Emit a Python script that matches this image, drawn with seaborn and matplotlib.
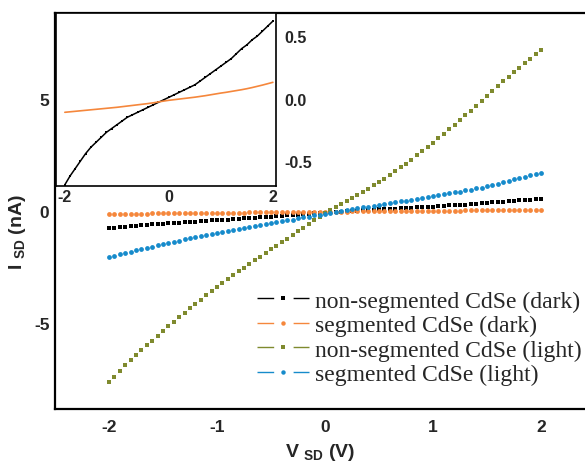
import numpy as np
import matplotlib
matplotlib.use("Agg")
import matplotlib.pyplot as plt
from matplotlib.lines import Line2D
import seaborn as sns

# ---- data ----
V_SD = [-2.00, -1.95, -1.90, -1.85, -1.80, -1.75, -1.70, -1.65, -1.60, -1.55,
        -1.50, -1.45, -1.40, -1.35, -1.30, -1.25, -1.20, -1.15, -1.10, -1.05,
        -1.00, -0.95, -0.90, -0.85, -0.80, -0.75, -0.70, -0.65, -0.60, -0.55,
        -0.50, -0.45, -0.40, -0.35, -0.30, -0.25, -0.20, -0.15, -0.10, -0.05,
        0.00, 0.05, 0.10, 0.15, 0.20, 0.25, 0.30, 0.35, 0.40, 0.45,
        0.50, 0.55, 0.60, 0.65, 0.70, 0.75, 0.80, 0.85, 0.90, 0.95,
        1.00, 1.05, 1.10, 1.15, 1.20, 1.25, 1.30, 1.35, 1.40, 1.45,
        1.50, 1.55, 1.60, 1.65, 1.70, 1.75, 1.80, 1.85, 1.90, 1.95, 2.00]

nonseg_dark = [-0.75, -0.74, -0.72, -0.70, -0.68, -0.66, -0.64, -0.62, -0.60, -0.58,
               -0.56, -0.55, -0.53, -0.52, -0.50, -0.48, -0.47, -0.45, -0.44, -0.42,
               -0.41, -0.39, -0.38, -0.36, -0.35, -0.33, -0.32, -0.30, -0.28, -0.27,
               -0.25, -0.23, -0.22, -0.20, -0.18, -0.16, -0.14, -0.13, -0.11, -0.10,
               -0.08, -0.06, -0.05, -0.03, -0.02, 0.00, 0.01, 0.03, 0.04, 0.06,
               0.07, 0.08, 0.10, 0.11, 0.12, 0.14, 0.15, 0.16, 0.18, 0.19,
               0.20, 0.22, 0.23, 0.25, 0.26, 0.28, 0.29, 0.31, 0.33, 0.34,
               0.36, 0.38, 0.42, 0.42, 0.43, 0.45, 0.47, 0.49, 0.51, 0.52, 0.54]

seg_dark = [-0.130, -0.127, -0.125, -0.122, -0.120, -0.117, -0.115, -0.112, -0.110, -0.107,
            -0.105, -0.102, -0.100, -0.097, -0.095, -0.092, -0.090, -0.087, -0.085, -0.082,
            -0.080, -0.078, -0.075, -0.073, -0.070, -0.068, -0.065, -0.063, -0.060, -0.058,
            -0.055, -0.053, -0.050, -0.048, -0.045, -0.043, -0.040, -0.038, -0.035, -0.033,
            -0.030, -0.029, -0.027, -0.025, -0.023, -0.021, -0.019, -0.017, -0.015, -0.013,
            -0.011, -0.009, -0.007, -0.005, -0.003, -0.001, 0.001, 0.003, 0.005, 0.007,
            0.010, 0.012, 0.014, 0.016, 0.018, 0.020, 0.023, 0.025, 0.027, 0.029,
            0.032, 0.034, 0.037, 0.039, 0.042, 0.045, 0.048, 0.051, 0.054, 0.057, 0.060]

nonseg_light = [-7.65, -7.40, -7.15, -6.90, -6.65, -6.44, -6.22, -6.01, -5.80, -5.59,
                -5.37, -5.16, -4.95, -4.75, -4.55, -4.35, -4.15, -3.96, -3.77, -3.59,
                -3.40, -3.22, -3.05, -2.87, -2.70, -2.54, -2.37, -2.21, -2.05, -1.89,
                -1.72, -1.56, -1.40, -1.24, -1.07, -0.91, -0.75, -0.59, -0.42, -0.26,
                -0.10, 0.04, 0.18, 0.31, 0.45, 0.59, 0.73, 0.86, 1.00, 1.15,
                1.30, 1.45, 1.60, 1.77, 1.95, 2.12, 2.30, 2.49, 2.68, 2.86,
                3.05, 3.25, 3.45, 3.65, 3.85, 4.06, 4.28, 4.49, 4.70, 4.93,
                5.15, 5.38, 5.60, 5.80, 6.00, 6.20, 6.40, 6.60, 6.80, 7.00, 7.20]

seg_light = [-2.05, -1.99, -1.93, -1.87, -1.82, -1.76, -1.70, -1.64, -1.59, -1.53,
             -1.48, -1.43, -1.37, -1.32, -1.27, -1.22, -1.17, -1.12, -1.07, -1.03,
             -0.98, -0.94, -0.89, -0.85, -0.81, -0.76, -0.72, -0.68, -0.64, -0.59,
             -0.55, -0.51, -0.46, -0.42, -0.38, -0.33, -0.29, -0.25, -0.20, -0.16,
             -0.12, -0.08, -0.04, 0.00, 0.04, 0.08, 0.12, 0.16, 0.19, 0.23,
             0.27, 0.31, 0.35, 0.39, 0.43, 0.46, 0.50, 0.54, 0.58, 0.62,
             0.66, 0.70, 0.74, 0.79, 0.83, 0.87, 0.92, 0.96, 1.01, 1.05,
             1.10, 1.16, 1.22, 1.28, 1.34, 1.41, 1.47, 1.53, 1.59, 1.66, 1.72]

# inset (dark curves, zoomed)
V_INSET = [-2.0, -1.9, -1.8, -1.7, -1.6, -1.5, -1.4, -1.3, -1.2, -1.1,
           -1.0, -0.9, -0.8, -0.7, -0.6, -0.5, -0.4, -0.3, -0.2, -0.1,
           0.0, 0.1, 0.2, 0.3, 0.4, 0.5, 0.6, 0.7, 0.8, 0.9,
           1.0, 1.1, 1.2, 1.3, 1.4, 1.5, 1.6, 1.7, 1.8, 1.9, 2.0]
inset_nonseg = [-0.69, -0.62, -0.56, -0.50, -0.44, -0.39, -0.35, -0.31, -0.27, -0.24,
                -0.21, -0.18, -0.15, -0.13, -0.11, -0.09, -0.07, -0.05, -0.03, -0.01,
                0.01, 0.03, 0.05, 0.07, 0.09, 0.11, 0.14, 0.17, 0.20, 0.23,
                0.26, 0.29, 0.32, 0.36, 0.40, 0.43, 0.47, 0.50, 0.54, 0.58, 0.62]
inset_seg = [-0.110, -0.106, -0.102, -0.098, -0.094, -0.090, -0.086, -0.082, -0.078, -0.074,
             -0.070, -0.065, -0.060, -0.055, -0.050, -0.045, -0.040, -0.034, -0.027, -0.020,
             -0.014, -0.009, -0.004, 0.001, 0.006, 0.011, 0.017, 0.023, 0.030, 0.037,
             0.044, 0.050, 0.057, 0.064, 0.071, 0.079, 0.088, 0.098, 0.108, 0.119, 0.130]

LABELS = ["non-segmented CdSe (dark)", "segmented CdSe (dark)",
          "non-segmented CdSe (light)", "segmented CdSe (light)"]
COLORS = ["#000000", "#f5873c", "#7f8a2e", "#168bcb"]
MARKERS = ["s", "o", "s", "o"]
SIZES = [9, 12, 9, 12]

# ---- style ----
sns.set_theme(style="white")
plt.rcParams["font.family"] = ["Liberation Sans", "DejaVu Sans"]
plt.rcParams["font.weight"] = "bold"
plt.rcParams["axes.unicode_minus"] = False
plt.rcParams["mathtext.fontset"] = "custom"
plt.rcParams["mathtext.rm"] = "Liberation Sans:bold"
plt.rcParams["mathtext.it"] = "Liberation Sans:bold"
plt.rcParams["mathtext.bf"] = "Liberation Sans:bold"

fig = plt.figure(figsize=(5.85, 4.64), dpi=100)
ax = fig.add_axes([55 / 585, 1 - 410 / 464, 530 / 585, 396 / 464])

series = [nonseg_dark, seg_dark, nonseg_light, seg_light]
for ys, col, mk, sz in zip(series, COLORS, MARKERS, SIZES):
    sns.scatterplot(x=V_SD, y=ys, color=col, marker=mk, s=sz, linewidth=0,
                    ax=ax, zorder=3)

ax.set_xlim(-2.5, 2.407)
ax.set_ylim(-8.85, 8.85)
ax.set_xticks([-2, -1, 0, 1, 2])
ax.set_yticks([-5, 0, 5])
ax.tick_params(length=0, labelsize=12.5, pad=7)
ax.tick_params(axis="y", pad=4)
for lab in ax.get_xticklabels() + ax.get_yticklabels():
    lab.set_fontweight("bold")
for side in ["left", "bottom", "top"]:
    ax.spines[side].set_linewidth(1.6)
    ax.spines[side].set_color("black")
ax.spines["right"].set_visible(False)

ax.set_xlabel(r"V $_{\mathrm{SD}}$ (V)", fontsize=14, fontweight="bold", labelpad=5)
ax.set_ylabel(r"I $_{\mathrm{SD}}$ (nA)", fontsize=14, fontweight="bold")
ax.yaxis.set_label_coords(-0.05, 0.45)

# legend with line-dot-line handles
handles = [Line2D([0], [0], color=c, lw=1.0, linestyle=(0, (12, 14)),
                  marker=m, markersize=3.2, markeredgewidth=0)
           for c, m in zip(COLORS, MARKERS)]
fig.legend(handles, LABELS, loc="upper left",
           bbox_to_anchor=(257 / 585, 1 - 291 / 464),
           frameon=False, borderaxespad=0, borderpad=0,
           handlelength=2.2, handletextpad=0.25, labelspacing=0.13,
           prop={"family": "Liberation Serif", "size": 17, "weight": "normal"})

# inset
ins = fig.add_axes([56 / 585, 1 - 187 / 464, 220 / 585, 173 / 464])
ins.set_facecolor("white")
sns.lineplot(x=V_INSET, y=inset_nonseg, color="black", lw=1.1,
             marker="s", markersize=1.6, markeredgewidth=0, ax=ins)
sns.lineplot(x=V_INSET, y=inset_seg, color="#f5873c", lw=1.2, ax=ins)
ins.set_xlim(-2.17, 2.06)
ins.set_ylim(-0.70, 0.685)
ins.set_xticks([-2, 0, 2])
ins.set_yticks([-0.5, 0.0, 0.5])
ins.set_yticklabels(["-0.5", "0.0", "0.5"])
ins.yaxis.tick_right()
ins.tick_params(length=0, labelsize=11.5, pad=2)
ins.tick_params(axis="y", pad=6)
for lab in ins.get_xticklabels() + ins.get_yticklabels():
    lab.set_fontweight("bold")
for sp in ins.spines.values():
    sp.set_linewidth(1.2)
    sp.set_color("black")

fig.savefig("out.png", dpi=100)
